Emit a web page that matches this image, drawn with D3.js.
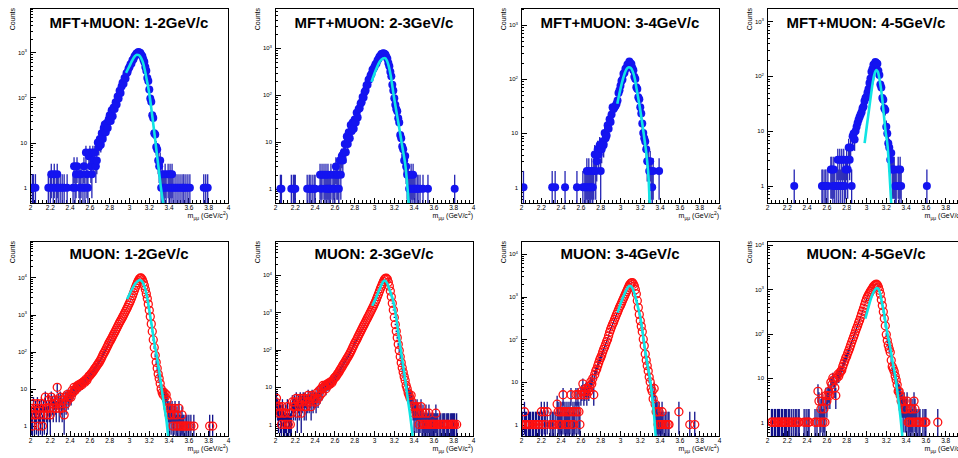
<!DOCTYPE html>
<html>
<head>
<meta charset="utf-8">
<script src="https://cdn.jsdelivr.net/npm/d3@7"></script>
<style>
  body { margin: 0; background: #fff; }
  svg { display: block; font-family: "Liberation Sans", Arial, Helvetica, sans-serif; }
</style>
</head>
<body>
<svg id="chart" width="958" height="458"></svg>
<script>
// histogram binning (GeV/c^2)
const massLow = 2.0;
const binWidth = 0.01;

const panelTitles = [
  "MFT+MUON: 1-2GeV/c", "MFT+MUON: 2-3GeV/c", "MFT+MUON: 3-4GeV/c", "MFT+MUON: 4-5GeV/c",
  "MUON: 1-2GeV/c", "MUON: 2-3GeV/c", "MUON: 3-4GeV/c", "MUON: 4-5GeV/c"
];

// counts per bin, 200 bins from 2 to 4, twenty bins (0.2 GeV) per line
const countsMftMuon12 = [
  1, 0, 1, 1, 0, 1, 0, 0, 0, 0, 0, 0, 0, 0, 0, 0, 0, 0, 1, 0,
  1, 2, 0, 1, 2, 0, 1, 2, 1, 0, 1, 0, 1, 0, 1, 0, 0, 1, 0, 0,
  0, 0, 0, 1, 3, 1, 2, 3, 0, 2, 1, 2, 0, 1, 3, 1, 6, 2, 1, 5,
  6, 3, 2, 6, 4, 6, 3, 4, 10, 8, 12, 9, 16, 12, 21, 25, 17, 27, 21, 33,
  40, 30, 52, 38, 60, 55, 78, 70, 105, 95, 140, 125, 175, 210, 200, 270, 260, 340, 360, 430,
  470, 540, 560, 660, 700, 800, 850, 940, 960, 1010, 980, 960, 870, 810, 690, 610, 470, 390, 270, 230,
  150, 95, 80, 40, 35, 16, 15, 8, 7, 4, 3, 4, 1, 2, 1, 1, 2, 1, 0, 2,
  1, 2, 1, 2, 1, 0, 1, 0, 1, 0, 1, 0, 1, 0, 1, 1, 0, 1, 0, 1,
  0, 1, 0, 0, 0, 0, 0, 0, 0, 0, 0, 0, 0, 0, 0, 1, 0, 1, 0, 1,
  0, 0, 0, 0, 0, 0, 0, 0, 0, 0, 0, 0, 0, 0, 0, 0, 0, 0, 0, 0
];
const countsMftMuon23 = [
  0, 0, 0, 0, 0, 1, 1, 0, 0, 0, 0, 0, 0, 0, 0, 0, 1, 0, 1, 1,
  1, 0, 0, 0, 0, 0, 0, 0, 0, 0, 0, 0, 1, 0, 1, 1, 0, 1, 0, 1,
  1, 0, 0, 0, 0, 2, 1, 2, 0, 2, 1, 2, 1, 2, 1, 1, 2, 0, 1, 2,
  1, 3, 2, 2, 1, 4, 2, 5, 4, 6, 9, 6, 13, 9, 16, 12, 23, 17, 26, 19,
  30, 26, 42, 33, 50, 52, 66, 70, 90, 88, 115, 125, 160, 165, 210, 215, 260, 280, 345, 360,
  400, 450, 470, 540, 580, 650, 680, 740, 750, 775, 755, 725, 650, 590, 480, 410, 310, 250, 165, 125,
  85, 62, 50, 45, 32, 26, 14, 12, 8, 7, 4, 5, 3, 2, 2, 1, 1, 2, 1, 2,
  1, 1, 0, 1, 1, 0, 1, 0, 0, 1, 0, 0, 0, 0, 1, 0, 0, 0, 0, 0,
  0, 0, 0, 0, 0, 0, 0, 0, 0, 0, 0, 0, 0, 0, 0, 0, 0, 0, 0, 0,
  0, 1, 0, 0, 0, 0, 0, 0, 0, 0, 0, 0, 0, 0, 0, 0, 0, 0, 0, 0
];
const countsMftMuon34 = [
  0, 0, 1, 0, 0, 0, 0, 0, 0, 0, 0, 0, 0, 0, 0, 0, 0, 0, 0, 0,
  0, 0, 0, 0, 0, 0, 0, 0, 0, 0, 0, 1, 0, 0, 1, 0, 0, 0, 0, 0,
  0, 0, 0, 0, 1, 0, 0, 0, 0, 0, 0, 0, 0, 0, 0, 0, 1, 0, 0, 0,
  0, 0, 1, 0, 1, 1, 2, 1, 2, 1, 1, 2, 1, 2, 4, 2, 3, 5, 4, 6,
  2, 5, 7, 6, 10, 8, 9, 14, 12, 18, 16, 22, 30, 28, 30, 32, 35, 40, 55, 62,
  75, 92, 98, 125, 130, 155, 160, 185, 190, 210, 195, 190, 160, 145, 110, 100, 70, 65, 46, 42,
  30, 23, 15, 10, 8, 7, 5, 3, 3, 2, 3, 2, 1, 2, 0, 0, 0, 0, 0, 2,
  0, 0, 0, 0, 0, 0, 0, 0, 0, 0, 0, 0, 0, 0, 0, 0, 0, 0, 0, 0,
  0, 0, 0, 0, 0, 0, 0, 0, 0, 0, 0, 0, 0, 0, 0, 0, 0, 0, 0, 0,
  0, 0, 0, 0, 0, 0, 0, 0, 0, 0, 0, 0, 0, 0, 0, 0, 0, 0, 0, 0
];
const countsMftMuon45 = [
  0, 0, 0, 0, 0, 0, 0, 0, 0, 0, 0, 0, 0, 0, 0, 0, 0, 0, 0, 0,
  0, 0, 0, 0, 0, 0, 0, 1, 0, 0, 0, 0, 0, 0, 0, 0, 0, 0, 0, 0,
  0, 0, 0, 0, 0, 0, 0, 0, 0, 0, 0, 0, 0, 0, 0, 1, 1, 0, 1, 1,
  0, 1, 0, 0, 2, 2, 1, 2, 1, 0, 1, 3, 1, 3, 1, 3, 1, 3, 1, 2,
  3, 2, 5, 3, 5, 1, 8, 9, 7, 10, 12, 14, 16, 18, 20, 22, 26, 28, 35, 40,
  42, 50, 58, 75, 90, 120, 135, 160, 165, 180, 172, 168, 125, 105, 70, 62, 40, 37, 26, 24,
  12, 9, 6, 5, 3, 4, 2, 2, 2, 1, 1, 0, 2, 1, 2, 1, 0, 0, 0, 0,
  0, 0, 0, 0, 0, 0, 0, 0, 0, 0, 0, 0, 0, 0, 0, 0, 0, 0, 0, 0,
  0, 1, 0, 0, 0, 0, 0, 0, 0, 0, 0, 0, 0, 0, 0, 0, 0, 0, 0, 0,
  0, 0, 0, 0, 0, 0, 0, 0, 0, 0, 0, 0, 0, 0, 0, 0, 0, 0, 0, 0
];
const countsMuon12 = [
  3, 2, 1, 4, 2, 3, 2, 4, 1, 3, 2, 4, 1, 3, 2, 6, 3, 2, 5, 3,
  2, 6, 4, 3, 5, 4, 3, 11, 5, 3, 6, 4, 3, 5, 2, 6, 4, 7, 5, 6,
  7, 6, 9, 8, 11, 9, 10, 12, 11, 13, 12, 14, 13, 15, 16, 15, 18, 17, 20, 22,
  23, 25, 27, 29, 32, 35, 38, 42, 46, 50, 55, 62, 70, 80, 90, 100, 112, 128, 145, 165,
  185, 205, 230, 260, 295, 330, 370, 420, 475, 540, 610, 680, 760, 850, 960, 1080, 1220, 1380, 1560, 1800,
  2050, 2350, 2750, 3200, 3800, 4500, 5300, 6200, 7200, 8200, 9100, 9600, 9500, 8600, 7400, 6000, 4700, 3600, 2700, 1900,
  1300, 880, 560, 350, 210, 130, 80, 52, 36, 25, 19, 14, 10, 8, 7, 8, 6, 7, 5, 3,
  2, 3, 2, 3, 1, 2, 3, 1, 2, 1, 3, 1, 1, 2, 1, 1, 0, 1, 1, 0,
  1, 0, 1, 0, 0, 1, 0, 0, 0, 0, 0, 0, 0, 0, 0, 0, 0, 0, 0, 0,
  0, 1, 0, 0, 1, 0, 0, 0, 0, 0, 0, 0, 0, 0, 0, 0, 0, 0, 0, 0
];
const countsMuon23 = [
  4, 5, 3, 2, 3, 2, 1, 3, 2, 1, 2, 1, 3, 1, 2, 1, 2, 4, 3, 4,
  3, 5, 2, 4, 3, 5, 2, 4, 5, 3, 5, 3, 4, 6, 4, 5, 3, 6, 4, 5,
  5, 4, 7, 5, 8, 6, 9, 7, 11, 10, 11, 9, 12, 11, 13, 12, 14, 13, 15, 17,
  18, 19, 21, 23, 25, 28, 31, 34, 38, 42, 46, 51, 57, 63, 70, 78, 88, 100, 115, 130,
  148, 165, 185, 210, 240, 270, 305, 345, 390, 440, 495, 560, 630, 710, 800, 900, 1020, 1150, 1300, 1480,
  1700, 1950, 2250, 2650, 3100, 3650, 4300, 5000, 5800, 6700, 7500, 8100, 8200, 7600, 6400, 5000, 3700, 2600, 1750, 1150,
  730, 470, 310, 210, 140, 95, 65, 45, 33, 25, 19, 15, 11, 9, 7, 6, 5, 6, 4, 3,
  2, 3, 2, 3, 2, 1, 2, 3, 1, 2, 1, 1, 2, 1, 1, 2, 1, 1, 1, 1,
  1, 1, 2, 1, 1, 0, 1, 1, 0, 1, 1, 1, 0, 1, 1, 1, 0, 1, 1, 1,
  1, 1, 0, 1, 0, 0, 0, 0, 0, 0, 0, 0, 0, 0, 0, 0, 0, 0, 0, 0
];
const countsMuon34 = [
  1, 1, 0, 2, 1, 1, 0, 1, 1, 1, 0, 1, 1, 0, 1, 1, 0, 1, 1, 0,
  2, 1, 0, 2, 1, 0, 2, 0, 0, 1, 0, 1, 1, 0, 1, 0, 3, 2, 1, 2,
  1, 2, 5, 2, 1, 2, 1, 2, 1, 2, 5, 1, 2, 1, 2, 5, 2, 5, 2, 1,
  5, 6, 9, 5, 6, 7, 5, 7, 6, 8, 10, 9, 12, 5, 15, 18, 20, 24, 28, 33,
  37, 42, 50, 58, 66, 76, 88, 100, 120, 145, 170, 195, 225, 250, 290, 330, 380, 430, 490, 560,
  620, 700, 800, 900, 1020, 1150, 1300, 1450, 1650, 1850, 2000, 2100, 2120, 1950, 1750, 1450, 1150, 800, 550, 380,
  270, 200, 150, 100, 70, 45, 32, 24, 18, 13, 10, 7, 6, 4, 7, 3, 2, 2, 1, 2,
  1, 1, 2, 1, 0, 1, 1, 0, 1, 1, 0, 0, 0, 0, 0, 0, 0, 0, 0, 2,
  0, 0, 0, 0, 0, 0, 0, 0, 0, 0, 1, 0, 0, 0, 0, 1, 0, 0, 0, 0,
  0, 0, 0, 0, 0, 0, 0, 0, 0, 0, 0, 0, 0, 0, 0, 0, 0, 0, 0, 0
];
const countsMuon45 = [
  0, 0, 0, 0, 1, 1, 0, 1, 1, 0, 1, 1, 1, 0, 1, 1, 0, 1, 1, 1,
  0, 1, 1, 0, 1, 0, 1, 0, 1, 1, 0, 1, 1, 0, 0, 0, 0, 1, 0, 1,
  0, 1, 1, 0, 0, 0, 0, 0, 1, 0, 1, 5, 3, 1, 2, 3, 1, 2, 1, 4,
  3, 4, 5, 4, 8, 7, 10, 9, 6, 4, 10, 12, 11, 13, 14, 15, 18, 21, 24, 28,
  31, 36, 41, 47, 55, 64, 74, 85, 98, 115, 132, 150, 175, 200, 235, 275, 320, 375, 440, 520,
  600, 680, 750, 820, 900, 980, 1060, 1150, 1220, 1280, 1300, 1250, 1120, 950, 780, 580, 430, 310, 220, 150,
  95, 70, 55, 45, 38, 25, 18, 16, 14, 11, 9, 7, 5, 5, 4, 3, 3, 2, 3, 2,
  2, 3, 1, 1, 2, 1, 2, 1, 3, 2, 1, 1, 0, 1, 1, 0, 0, 1, 0, 1,
  1, 0, 0, 0, 0, 0, 0, 0, 0, 0, 0, 0, 1, 0, 0, 0, 0, 0, 0, 0,
  0, 0, 0, 0, 0, 0, 0, 0, 0, 0, 0, 0, 0, 0, 0, 0, 0, 0, 0, 0
];

// fitted curves, [mass, counts]
const fitMftMuon12 = [[2.97,350],[3.0,470],[3.03,640],[3.06,820],[3.08,880],[3.10,860],[3.12,760],[3.14,600],[3.16,400],[3.18,240],[3.20,140],[3.22,70],[3.24,32],[3.26,14],[3.28,6],[3.30,2.6],[3.32,1.1],[3.345,0.45]];
const fitMftMuon23 = [[2.975,190],[3.0,270],[3.03,390],[3.06,520],[3.09,600],[3.11,610],[3.13,540],[3.15,400],[3.17,250],[3.20,95],[3.23,40],[3.26,17],[3.29,7],[3.32,2.8],[3.35,0.5]];
const fitMftMuon34 = [[2.973,35],[3.0,60],[3.03,100],[3.06,145],[3.09,165],[3.11,160],[3.13,135],[3.15,100],[3.17,62],[3.20,30],[3.225,15],[3.25,7],[3.27,3.6],[3.29,1.3],[3.30,0.5]];
const fitMftMuon45 = [[2.986,6],[3.01,13],[3.03,24],[3.05,45],[3.07,80],[3.09,115],[3.105,129],[3.12,120],[3.14,80],[3.16,45],[3.18,20],[3.20,9],[3.215,6],[3.235,2],[3.255,0.49]];
const fitMuon12 = [[2.98,2570],[3.0,3300],[3.03,4800],[3.06,6600],[3.09,8000],[3.108,8500],[3.13,7900],[3.155,5800],[3.18,3200],[3.205,1300],[3.23,500],[3.255,180],[3.28,78],[3.305,30],[3.33,10],[3.355,3.5],[3.38,1.3],[3.395,0.54]];
const fitMuon23 = [[2.983,1500],[3.01,2100],[3.04,3300],[3.07,5000],[3.09,6500],[3.105,7100],[3.13,6200],[3.16,3800],[3.197,1860],[3.225,700],[3.254,194],[3.285,55],[3.315,16],[3.34,5],[3.366,1.7],[3.39,0.49]];
const fitMuon34 = [[2.976,420],[3.0,620],[3.03,950],[3.06,1350],[3.085,1700],[3.101,1780],[3.12,1650],[3.15,1100],[3.18,580],[3.203,350],[3.23,140],[3.253,58],[3.28,24],[3.304,11.5],[3.325,4.5],[3.345,1.6],[3.36,0.54]];
const fitMuon45 = [[2.993,218],[3.02,360],[3.05,620],[3.08,900],[3.112,1070],[3.14,850],[3.16,520],[3.18,310],[3.21,120],[3.24,55],[3.27,22],[3.3,9.6],[3.325,3.5],[3.35,1.2],[3.367,0.49]];

// y axis ranges of each pad (log scale)
const yAxisRanges = [[0.46, 9500], [0.5, 7100], [0.51, 2050], [0.49, 1730],
                     [0.54, 95000], [0.49, 81000], [0.54, 20000], [0.49, 12300]];
const xTickValues = [2, 2.2, 2.4, 2.6, 2.8, 3, 3.2, 3.4, 3.6, 3.8, 4];
const yTickValues = [1, 10, 100, 1000, 10000];

const panels = [
  { counts: countsMftMuon12, fit: fitMftMuon12 },
  { counts: countsMftMuon23, fit: fitMftMuon23 },
  { counts: countsMftMuon34, fit: fitMftMuon34 },
  { counts: countsMftMuon45, fit: fitMftMuon45 },
  { counts: countsMuon12, fit: fitMuon12 },
  { counts: countsMuon23, fit: fitMuon23 },
  { counts: countsMuon34, fit: fitMuon34 },
  { counts: countsMuon45, fit: fitMuon45 }
].map((p, i) => ({ ...p, title: panelTitles[i], yRange: yAxisRanges[i], open: i >= 4 }));

// layout of the 2x4 grid of pads
const frameW = 198, frameH = 195;
const colLeft = [30, 275, 521, 767];
const rowTop = [8, 241];
const titleOffset = [20, 18];

const svg = d3.select("#chart");

panels.forEach((p, i) => {
  const row = Math.floor(i / 4), col = i % 4;
  const g = svg.append("g").attr("transform", `translate(${colLeft[col]},${rowTop[row]})`);

  const x = d3.scaleLinear().domain([2, 4]).range([0, frameW]);
  const y = d3.scaleLog().domain(p.yRange).range([frameH, 0]);

  const clipId = "clip" + i;
  g.append("clipPath").attr("id", clipId)
    .append("rect").attr("width", frameW).attr("height", frameH);

  // axes: ticks point inward, no domain line (frame drawn later)
  const minorX = d3.range(2, 4.001, 0.04).filter(v => Math.abs(v * 5 - Math.round(v * 5)) > 1e-6);
  g.append("g").attr("transform", `translate(0,${frameH})`)
    .call(d3.axisBottom(x).tickValues(minorX).tickSize(-3).tickFormat(""));
  const xAxis = g.append("g").attr("transform", `translate(0,${frameH})`)
    .call(d3.axisBottom(x).tickValues(xTickValues).tickSize(-5.5).tickPadding(2.5)
      .tickFormat(d => String(+d.toFixed(1))));
  xAxis.selectAll("text").attr("font-size", 6.5).attr("fill", "#000");

  const [ylo, yhi] = p.yRange;
  const minorY = [];
  for (let e = -1; e <= 5; e++) {
    for (let k = 2; k <= 9; k++) {
      const v = k * Math.pow(10, e);
      if (v > ylo && v < yhi) minorY.push(v);
    }
  }
  g.append("g")
    .call(d3.axisLeft(y).tickValues(minorY).tickSize(-3).tickFormat(""));
  const yAxis = g.append("g")
    .call(d3.axisLeft(y).tickValues(yTickValues.filter(v => v >= ylo && v <= yhi))
      .tickSize(-6).tickPadding(3));
  yAxis.selectAll(".tick text").each(function (d) {
    const e = Math.round(Math.log10(d));
    const t = d3.select(this).text("").attr("font-size", 6).attr("fill", "#000");
    if (e === 0) t.text("1");
    else if (e === 1) t.text("10");
    else {
      t.append("tspan").text("10");
      t.append("tspan").attr("dy", -2.6).attr("font-size", 4.3).text(e);
    }
  });
  g.selectAll(".domain").remove();
  g.selectAll(".tick line").attr("stroke", "#000").attr("stroke-width", 1)
    .attr("shape-rendering", "crispEdges");

  // histogram points (empty bins are not drawn on a log axis)
  const bins = p.counts
    .map((c, k) => ({ m: massLow + (k + 0.5) * binWidth, c }))
    .filter(d => d.c > 0);

  const plot = g.append("g").attr("clip-path", `url(#${clipId})`);
  plot.selectAll("line.err").data(bins).join("line")
    .attr("class", "err")
    .attr("x1", d => x(d.m)).attr("x2", d => x(d.m))
    .attr("y1", d => {
      const lo = d.c - Math.sqrt(d.c);
      return lo > ylo ? y(lo) : frameH;
    })
    .attr("y2", d => y(d.c + Math.sqrt(d.c)))
    .attr("stroke", p.open ? "#10108a" : "#2424b4")
    .attr("stroke-width", 1.3);

  plot.selectAll("circle").data(bins).join("circle")
    .attr("cx", d => x(d.m)).attr("cy", d => y(d.c))
    .attr("r", 4)
    .attr("fill", p.open ? "none" : "#1414f0")
    .attr("stroke", p.open ? "#ff1010" : "none")
    .attr("stroke-width", 1.3);

  // fit curve
  plot.append("path").datum(p.fit)
    .attr("d", d3.line().x(d => x(d[0])).y(d => y(d[1])).curve(d3.curveMonotoneX))
    .attr("fill", "none")
    .attr("stroke", "#10e4e4")
    .attr("stroke-width", 2.6);

  // frame
  g.append("rect")
    .attr("width", frameW).attr("height", frameH)
    .attr("fill", "none").attr("stroke", "#000").attr("stroke-width", 1)
    .attr("shape-rendering", "crispEdges");

  // titles
  g.append("text")
    .attr("x", frameW / 2).attr("y", titleOffset[row])
    .attr("text-anchor", "middle")
    .attr("font-weight", "bold").attr("font-size", 15)
    .text(p.title);

  g.append("text")
    .attr("transform", `translate(-15,0) rotate(-90)`)
    .attr("text-anchor", "end")
    .attr("font-size", 7)
    .text("Counts");

  const xt = g.append("text")
    .attr("x", frameW).attr("y", frameH + 15)
    .attr("text-anchor", "end")
    .attr("font-size", 7);
  xt.append("tspan").text("m");
  xt.append("tspan").attr("dy", 1.8).attr("font-size", 5).text("\u03bc\u03bc");
  xt.append("tspan").attr("dy", -1.8).text(" (GeV/c");
  xt.append("tspan").attr("dy", -2.6).attr("font-size", 5).text("2");
  xt.append("tspan").attr("dy", 2.6).text(")");
});
</script>
</body>
</html>
